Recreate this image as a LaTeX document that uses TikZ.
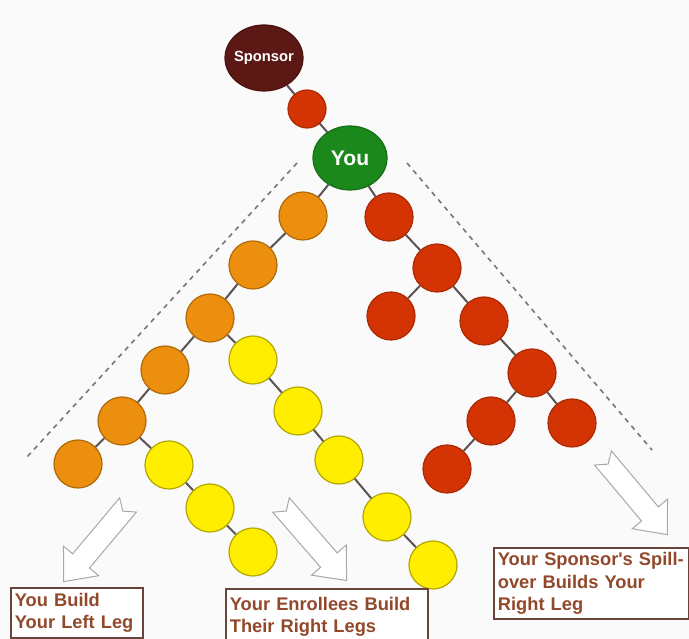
\documentclass[tikz,border=0pt]{standalone}
\usepackage{fontspec}
\setmainfont{Liberation Sans}
\usepackage{tikz}
\usetikzlibrary{shapes.geometric}
\definecolor{pagebg}{RGB}{250,250,250}
\definecolor{sponsorbrown}{RGB}{92,24,20}
\definecolor{nodered}{RGB}{212,52,4}
\definecolor{yougreen}{RGB}{26,136,26}
\definecolor{nodeorange}{RGB}{236,142,14}
\definecolor{nodeyellow}{RGB}{255,238,0}
\definecolor{linkgray}{RGB}{92,82,82}
\definecolor{guidegray}{RGB}{118,118,128}
\definecolor{arrowgray}{RGB}{168,168,168}
\definecolor{boxbrown}{RGB}{105,68,58}
\definecolor{legtext}{RGB}{146,72,42}

\begin{document}
\begin{tikzpicture}[
  x=0.25mm,y=-0.25mm,
  ball/.style={circle,minimum size=12mm,inner sep=0pt,line width=0.3mm},
  redball/.style={ball,fill=nodered,draw=nodered!80!black},
  orangeball/.style={ball,fill=nodeorange,draw=nodeorange!75!black},
  yellowball/.style={ball,fill=nodeyellow,draw=nodeyellow!70!black},
  bigball/.style={ellipse,inner sep=0pt,text=white,line width=0.3mm},
  link/.style={draw=linkgray,line width=0.5mm},
  guide/.style={draw=guidegray,line width=0.4mm,dash pattern=on 1.2mm off 1.2mm},
  legbox/.style={rectangle,draw=boxbrown,line width=0.45mm,fill=white,anchor=north west,align=left,inner sep=1mm,font=\bfseries\fontsize{13}{15.8}\selectfont,text=legtext},
  hollowarrow/.pic={\draw[draw=arrowgray,fill=white,line width=0.25mm] (0,-11) -- (73,-11) -- (73,-23) -- (100,0) -- (73,23) -- (73,11) -- (0,11) -- (8,0) -- cycle;}
]
  \clip (0,0) rectangle (689,639);
  \fill[pagebg] (0,0) rectangle (689,639);

  \coordinate (gl1) at (297,163);
  \coordinate (gl2) at (27,457);
  \coordinate (gr1) at (407,163);
  \coordinate (gr2) at (652,450);
  \draw[guide] (gl1) -- (gl2);
  \draw[guide] (gr1) -- (gr2);

  \node[bigball,fill=sponsorbrown,draw=sponsorbrown!80!black,inner xsep=-1mm,minimum width=19.5mm,minimum height=16.5mm,font=\bfseries\fontsize{10.5}{12}\selectfont] (sponsor) at (264,58) {Sponsor};
  \node[redball,minimum size=9.5mm] (link1) at (307,109) {};
  \node[bigball,fill=yougreen,draw=yougreen!80!black,minimum width=18.5mm,minimum height=16mm,font=\bfseries\fontsize{15}{18}\selectfont] (you) at (350,158) {You};

  \node[orangeball] (o1) at (303,216) {};
  \node[orangeball] (o2) at (253,265) {};
  \node[orangeball] (o3) at (210,318) {};
  \node[orangeball] (o4) at (165,370) {};
  \node[orangeball] (o5) at (122,421) {};
  \node[orangeball] (o6) at (78,464) {};

  \node[yellowball] (y1) at (253,360) {};
  \node[yellowball] (y2) at (298,411) {};
  \node[yellowball] (y3) at (339,460) {};
  \node[yellowball] (y4) at (387,517) {};
  \node[yellowball] (y5) at (433,565) {};
  \node[yellowball] (y6) at (169,465) {};
  \node[yellowball] (y7) at (210,508) {};
  \node[yellowball] (y8) at (253,552) {};

  \node[redball] (r1) at (389,217) {};
  \node[redball] (r2) at (437,268) {};
  \node[redball] (r3) at (391,316) {};
  \node[redball] (r4) at (484,321) {};
  \node[redball] (r5) at (532,373) {};
  \node[redball] (r6) at (491,421) {};
  \node[redball] (r7) at (572,423) {};
  \node[redball] (r8) at (447,469) {};

  \draw[link] (sponsor) -- (link1);
  \draw[link] (link1) -- (you);
  \draw[link] (you) -- (o1);
  \draw[link] (you) -- (r1);
  \draw[link] (o1) -- (o2);
  \draw[link] (o2) -- (o3);
  \draw[link] (o3) -- (o4);
  \draw[link] (o4) -- (o5);
  \draw[link] (o5) -- (o6);
  \draw[link] (o3) -- (y1);
  \draw[link] (y1) -- (y2);
  \draw[link] (y2) -- (y3);
  \draw[link] (y3) -- (y4);
  \draw[link] (y4) -- (y5);
  \draw[link] (o5) -- (y6);
  \draw[link] (y6) -- (y7);
  \draw[link] (y7) -- (y8);
  \draw[link] (r1) -- (r2);
  \draw[link] (r2) -- (r3);
  \draw[link] (r2) -- (r4);
  \draw[link] (r4) -- (r5);
  \draw[link] (r5) -- (r6);
  \draw[link] (r5) -- (r7);
  \draw[link] (r6) -- (r8);

  \pic[rotate=230] (leftarrow) at (128,505) {hollowarrow};
  \pic[rotate=-49] (midarrow) at (281,505) {hollowarrow};
  \pic[rotate=-50] (rightarrow) at (603,458) {hollowarrow};

  \node[legbox,text width=31mm,minimum height=12.5mm] (leftleg) at (10,587) {You Build\\Your Left Leg};
  \node[legbox,text width=48.5mm,minimum height=14mm] (enrollees) at (225,588) {Your Enrollees Build\\Their Right Legs};
  \node[legbox,text width=46.75mm,minimum height=17.75mm] (spillover) at (493,547) {Your Sponsor\textquotesingle s Spill-\\over Builds Your\\Right Leg};
\end{tikzpicture}
\end{document}
